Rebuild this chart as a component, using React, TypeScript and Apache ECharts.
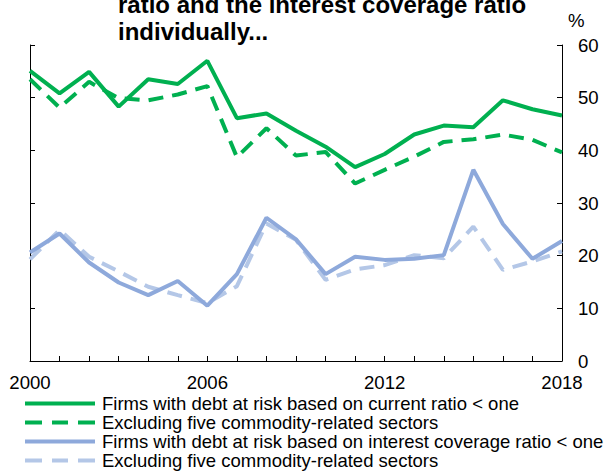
import React, { useEffect, useRef } from "react";
import * as echarts from "echarts";

const years = [2000, 2001, 2002, 2003, 2004, 2005, 2006, 2007, 2008, 2009, 2010, 2011, 2012, 2013, 2014, 2015, 2016, 2017, 2018];
const currentRatio = [55.1, 50.8, 54.9, 48.3, 53.5, 52.6, 57.0, 46.1, 47.0, 43.7, 40.7, 36.8, 39.3, 43.0, 44.7, 44.4, 49.5, 47.8, 46.6];
const currentRatioExCommodity = [53.5, 48.1, 53.0, 49.9, 49.5, 50.6, 52.2, 38.7, 44.2, 39.0, 39.7, 33.7, 36.3, 38.8, 41.6, 42.1, 43.0, 42.0, 39.6];
const interestCoverage = [20.6, 24.2, 18.7, 14.9, 12.5, 15.2, 10.5, 16.5, 27.2, 23.1, 16.5, 19.8, 19.2, 19.4, 20.1, 36.3, 26.0, 19.4, 22.8];
const interestCoverageExCommodity = [19.3, 24.9, 19.8, 17.0, 14.1, 12.5, 11.0, 14.2, 26.1, 23.0, 15.4, 17.4, 18.2, 20.1, 19.5, 25.5, 17.3, 18.9, 20.8];
const xLabelYears = [2000, 2006, 2012, 2018];
const seriesNames = [
  "Firms with debt at risk based on current ratio < one",
  "Excluding five commodity-related sectors",
  "Firms with debt at risk based on interest coverage ratio < one",
  "Excluding five commodity-related sectors ",
];
const titleLines = ["ratio and the interest coverage ratio", "individually..."];
const unitLabel = "%";

const FONT = 'Arial, "Liberation Sans", sans-serif';
const GREEN = "#00B050";
const BLUE = "#8EA9DB";
const LIGHT_BLUE = "#B4C7E7";
const SOLID_ICON = "path://M0,0H70V4H0Z";
const DASH_ICON = "path://M0,0H17V4H0Z M27,0H43V4H27Z M53,0H70V4H53Z";

export default function App() {
  const ref = useRef<HTMLDivElement>(null);
  useEffect(() => {
    document.body.style.margin = "0";
    if (!ref.current) return;
    const chart = echarts.init(ref.current, undefined, { renderer: "svg" });
    const pair = (arr: number[]) => years.map((y, i) => [y, arr[i]]);
    const axisLine = { show: true, lineStyle: { color: "#000", width: 1 } };
    const tick = { show: true, inside: true, length: 5, lineStyle: { color: "#000" } };
    chart.setOption({
      animation: false,
      textStyle: { fontFamily: FONT },
      grid: { left: 30, right: 48, top: 45, bottom: 110, containLabel: false },
      xAxis: {
        type: "value",
        min: 2000,
        max: 2018,
        interval: 1,
        axisLine,
        axisTick: tick,
        splitLine: { show: false },
        axisLabel: {
          color: "#000",
          fontSize: 18.6,
          fontFamily: FONT,
          margin: 12,
          formatter: (v: number) => (xLabelYears.includes(v) ? String(v) : ""),
        },
      },
      yAxis: [
        {
          type: "value",
          position: "right",
          min: 0,
          max: 60,
          interval: 10,
          axisLine,
          axisTick: tick,
          splitLine: { show: false },
          axisLabel: { color: "#000", fontSize: 18.6, fontFamily: FONT, margin: 16 },
        },
        {
          type: "value",
          position: "left",
          min: 0,
          max: 60,
          interval: 10,
          axisLine,
          axisTick: tick,
          splitLine: { show: false },
          axisLabel: { show: false },
        },
      ],
      legend: {
        orient: "vertical",
        left: 25,
        top: 394,
        padding: 0,
        itemWidth: 70,
        itemHeight: 4,
        itemGap: 0,
        textStyle: { color: "#000", fontSize: 18.5, lineHeight: 18.5, fontFamily: FONT, padding: [0, 0, 0, 2] },
        data: [
          { name: seriesNames[0], icon: SOLID_ICON },
          { name: seriesNames[1], icon: DASH_ICON },
          { name: seriesNames[2], icon: SOLID_ICON },
          { name: seriesNames[3], icon: DASH_ICON },
        ],
      },
      series: [
        {
          name: seriesNames[3],
          type: "line",
          data: pair(interestCoverageExCommodity),
          symbol: "none",
          lineStyle: { color: LIGHT_BLUE, width: 4, type: [15, 9] },
          itemStyle: { color: LIGHT_BLUE },
          z: 2,
        },
        {
          name: seriesNames[2],
          type: "line",
          data: pair(interestCoverage),
          symbol: "none",
          lineStyle: { color: BLUE, width: 4 },
          itemStyle: { color: BLUE },
          z: 3,
        },
        {
          name: seriesNames[1],
          type: "line",
          data: pair(currentRatioExCommodity),
          symbol: "none",
          lineStyle: { color: GREEN, width: 4, type: [15, 9] },
          itemStyle: { color: GREEN },
          z: 4,
        },
        {
          name: seriesNames[0],
          type: "line",
          data: pair(currentRatio),
          symbol: "none",
          lineStyle: { color: GREEN, width: 4 },
          itemStyle: { color: GREEN },
          z: 5,
        },
      ],
      graphic: [
        {
          type: "text",
          x: 118,
          y: -9,
          style: {
            text: titleLines.join("\n"),
            font: `bold 24px ${FONT}`,
            lineHeight: 27,
            fill: "#000",
          },
        },
        {
          type: "text",
          x: 568,
          y: 20,
          style: { text: unitLabel, font: `18.6px ${FONT}`, fill: "#000", verticalAlign: "middle" },
        },
      ],
    });
    return () => chart.dispose();
  }, []);
  return <div ref={ref} style={{ width: 610, height: 471 }} />;
}
